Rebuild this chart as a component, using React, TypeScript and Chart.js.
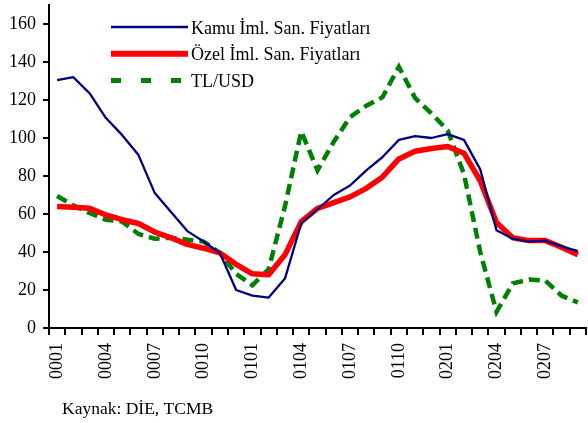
import React, { useEffect, useRef } from 'react';
import { Chart, registerables } from 'chart.js';

Chart.register(...registerables);

const categories = [
  '0001', '0002', '0003', '0004', '0005', '0006', '0007', '0008', '0009', '0010', '0011', '0012',
  '0101', '0102', '0103', '0104', '0105', '0106', '0107', '0108', '0109', '0110', '0111', '0112',
  '0201', '0202', '0203', '0204', '0205', '0206', '0207', '0208', '0209',
];

const tickLabels = ['0001', '0004', '0007', '0010', '0101', '0104', '0107', '0110', '0201', '0204', '0207'];

const kamu = [130.5, 132, 123.5, 110.5, 101.5, 91, 71, 61, 51, 45.5, 39.5, 20, 17, 16, 26, 55, 62.5,
  70, 75, 83, 90, 99, 101, 100, 102, 99, 83.5, 51.5, 47, 45.5, 46, 43, 40.5];

const ozel = [64, 63.5, 63, 59.5, 57, 55, 50.5, 47.5, 44, 42, 39.5, 33.5, 28.5, 28, 38.5, 56, 63,
  66, 69, 73.5, 79.5, 89, 93, 94.5, 95.5, 92, 77.5, 55.5, 47.5, 46, 46, 42.5, 38.5];

const tlusd = [69.5, 64.5, 60.5, 57, 56, 49.5, 47, 47.5, 46.5, 45.5, 39.5, 28.5, 22.5, 31, 64, 103.5,
  83, 98, 111, 117, 121.5, 137.5, 121, 113, 104, 81, 40, 8.5, 23.5, 25.5, 25, 17, 13.5];

const seriesNames = ['Kamu İml. San. Fiyatları', 'Özel İml. San. Fiyatları', 'TL/USD'];
const seriesColors = ['#000080', '#FF0000', '#008000'];

const yMin = 0;
const yMax = 170;
const yStep = 20;

const caption = 'Kaynak: DİE, TCMB';

const FONT = '"Liberation Serif", "Times New Roman", serif';

const legendPlugin = {
  id: 'customLegend',
  afterDraw(chart: any) {
    const ctx = chart.ctx;
    ctx.save();
    const widths = [2.5, 6, 5];
    const dashes = [[], [], [10, 20]];
    chart.data.datasets.forEach((ds: any, i: number) => {
      const y = 27 + i * 26.8;
      ctx.beginPath();
      ctx.strokeStyle = ds.borderColor;
      ctx.lineWidth = widths[i];
      ctx.lineCap = 'butt';
      ctx.setLineDash(dashes[i]);
      ctx.moveTo(111, y);
      ctx.lineTo(188, y);
      ctx.stroke();
      ctx.setLineDash([]);
      ctx.fillStyle = '#000';
      ctx.font = `18px ${FONT}`;
      ctx.textAlign = 'left';
      ctx.textBaseline = 'alphabetic';
      ctx.fillText(ds.label, 191, y + 6.5);
    });
    ctx.font = `17.5px ${FONT}`;
    ctx.fillStyle = '#000';
    ctx.textAlign = 'left';
    ctx.textBaseline = 'alphabetic';
    ctx.fillText(caption, 62, 414);
    ctx.restore();
  },
};

export default function App() {
  const ref = useRef<HTMLCanvasElement | null>(null);

  useEffect(() => {
    if (!ref.current) return;
    const chart = new Chart(ref.current, {
      type: 'line',
      data: {
        labels: categories,
        datasets: [
          {
            label: seriesNames[0],
            data: kamu,
            borderColor: seriesColors[0],
            backgroundColor: seriesColors[0],
            borderWidth: 2.3,
            pointRadius: 0,
            tension: 0,
            borderJoinStyle: 'round',
            order: 1,
          },
          {
            label: seriesNames[1],
            data: ozel,
            borderColor: seriesColors[1],
            backgroundColor: seriesColors[1],
            borderWidth: 5.5,
            pointRadius: 0,
            tension: 0,
            borderJoinStyle: 'round',
            order: 2,
          },
          {
            label: seriesNames[2],
            data: tlusd,
            borderColor: seriesColors[2],
            backgroundColor: seriesColors[2],
            borderWidth: 4.5,
            borderDash: [11, 6],
            borderCapStyle: 'butt',
            pointRadius: 0,
            tension: 0,
            order: 3,
          },
        ],
      },
      options: {
        animation: false,
        responsive: false,
        devicePixelRatio: 1,
        layout: { padding: { left: 0, right: 2, top: 5, bottom: 0 } },
        plugins: {
          legend: { display: false },
          tooltip: { enabled: false },
          title: { display: false },
        },
        scales: {
          x: {
            type: 'category',
            offset: true,
            grid: {
              offset: true,
              drawOnChartArea: false,
              drawTicks: true,
              tickLength: 7,
              color: '#000',
              lineWidth: 2,
            },
            border: { display: true, color: '#000', width: 2 },
            ticks: {
              autoSkip: false,
              minRotation: 90,
              maxRotation: 90,
              padding: 8,
              color: '#000',
              font: { family: FONT, size: 18 },
              callback: (_v: any, index: number) =>
                tickLabels.includes(categories[index]) ? categories[index] : '',
            },
            afterFit: (scale: any) => {
              scale.height = 95;
              scale.paddingLeft = 0;
              scale.paddingRight = 0;
            },
          },
          y: {
            min: yMin,
            max: yMax,
            grid: {
              drawOnChartArea: false,
              drawTicks: true,
              tickLength: 6,
              color: '#000',
              lineWidth: 2,
            },
            border: { display: true, color: '#000', width: 2 },
            ticks: {
              stepSize: yStep,
              includeBounds: false,
              padding: 7,
              color: '#000',
              font: { family: FONT, size: 18 },
            },
            afterFit: (scale: any) => {
              scale.width = 49;
              scale.paddingTop = 0;
              scale.paddingBottom = 0;
            },
          },
        },
      },
      plugins: [legendPlugin],
    } as any);
    return () => chart.destroy();
  }, []);

  return (
    <div style={{ position: 'absolute', left: 0, top: 0, width: 588, height: 423, background: '#fff' }}>
      <canvas ref={ref} width={588} height={423} style={{ display: 'block', width: 588, height: 423 }} />
    </div>
  );
}
